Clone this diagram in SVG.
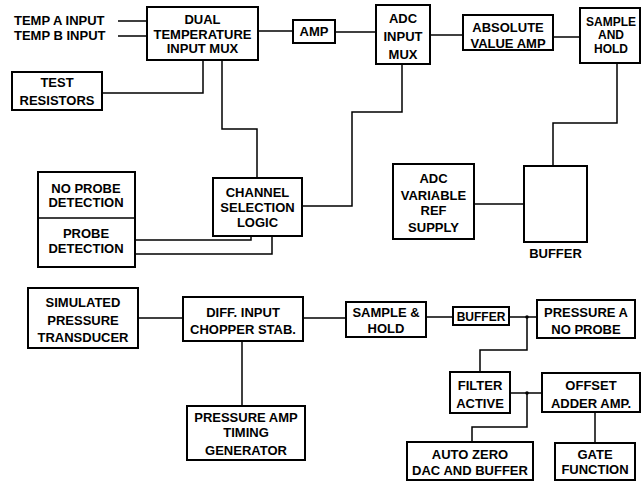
<svg xmlns="http://www.w3.org/2000/svg" width="644" height="484" viewBox="0 0 644 484">
<style>
.b{fill:#fff;stroke:#000;stroke-width:2}
.t{font-family:"Liberation Sans",Arial,sans-serif;font-weight:bold;font-size:13px;fill:#000;text-anchor:middle}
.l{text-anchor:start}
.s{font-size:12px}
.c{fill:none;stroke:#000;stroke-width:1.5}
</style>
<rect width="644" height="484" fill="#fff"/>
<g id="connectors">
<path class="c" d="M118 21H147M118 36H147"/>
<path class="c" d="M258 31H293"/>
<path class="c" d="M335 32H376"/>
<path class="c" d="M430 35H463"/>
<path class="c" d="M553 37H580"/>
<path class="c" d="M102 93H203V60"/>
<path class="c" d="M222 60V129H257V178"/>
<path class="c" d="M402 64V112H352V206H302"/>
<path class="c" d="M617 63V123H553V166"/>
<path class="c" d="M474 204H524"/>
<path class="c" d="M135 240H251V236"/>
<path class="c" d="M135 254H272V236"/>
<path class="c" d="M138 318H183"/>
<path class="c" d="M242 341V406"/>
<path class="c" d="M303 318H346"/>
<path class="c" d="M426 317H453"/>
<path class="c" d="M509 317H537"/>
<path class="c" d="M527 317V350H480V372"/>
<path class="c" d="M510 393H542"/>
<path class="c" d="M527 393V427H472V442"/>
<path class="c" d="M595 412V443"/>
<circle cx="527" cy="317" r="1.8"/>
<circle cx="527" cy="393" r="1.8"/>
</g>
<g id="temp-inputs">
<text class="t l" x="14" y="25">TEMP A INPUT</text>
<text class="t l" x="14" y="40">TEMP B INPUT</text>
</g>
<g id="dual-mux">
<rect class="b" x="147" y="7" width="111" height="53"/>
<text class="t" x="202.5" y="24">DUAL</text>
<text class="t" x="202.5" y="39">TEMPERATURE</text>
<text class="t" x="202.5" y="53">INPUT MUX</text>
</g>
<g id="amp">
<rect class="b" x="293" y="20" width="42" height="23"/>
<text class="t" x="314" y="36">AMP</text>
</g>
<g id="adc-mux">
<rect class="b" x="376" y="5" width="54" height="59"/>
<text class="t" x="403" y="23">ADC</text>
<text class="t" x="403" y="41">INPUT</text>
<text class="t" x="403" y="59">MUX</text>
</g>
<g id="abs-amp">
<rect class="b" x="463" y="15" width="90" height="35"/>
<text class="t" x="508" y="32">ABSOLUTE</text>
<text class="t" x="508" y="48">VALUE AMP</text>
</g>
<g id="sample-hold">
<rect class="b" x="580" y="8" width="60" height="55"/>
<text class="t s" x="611" y="26">SAMPLE</text>
<text class="t s" x="611" y="39">AND</text>
<text class="t s" x="611" y="53">HOLD</text>
</g>
<g id="test-resistors">
<rect class="b" x="12" y="72" width="90" height="38"/>
<text class="t" x="57" y="87">TEST</text>
<text class="t" x="57" y="105">RESISTORS</text>
</g>
<g id="probe-detection">
<rect class="b" x="38" y="172" width="97" height="95"/>
<line x1="38" y1="218" x2="135" y2="218" stroke="#000" stroke-width="1.5"/>
<text class="t" x="86" y="193">NO PROBE</text>
<text class="t" x="86" y="207">DETECTION</text>
<text class="t" x="86" y="238">PROBE</text>
<text class="t" x="86" y="253">DETECTION</text>
</g>
<g id="channel-selection">
<rect class="b" x="213" y="178" width="89" height="58"/>
<text class="t" x="257.5" y="197">CHANNEL</text>
<text class="t" x="257.5" y="212">SELECTION</text>
<text class="t" x="257.5" y="227">LOGIC</text>
</g>
<g id="adc-ref">
<rect class="b" x="393" y="164" width="81" height="75"/>
<text class="t" x="433.5" y="183">ADC</text>
<text class="t" x="433.5" y="200">VARIABLE</text>
<text class="t" x="433.5" y="215">REF</text>
<text class="t" x="433.5" y="232">SUPPLY</text>
</g>
<g id="buffer-top">
<rect class="b" x="524" y="166" width="63" height="76"/>
<text class="t" x="555.5" y="258">BUFFER</text>
</g>
<g id="sim-transducer">
<rect class="b" x="28" y="288" width="110" height="60"/>
<text class="t" x="83" y="307">SIMULATED</text>
<text class="t" x="83" y="325">PRESSURE</text>
<text class="t" x="83" y="342">TRANSDUCER</text>
</g>
<g id="diff-input">
<rect class="b" x="183" y="297" width="120" height="44"/>
<text class="t" x="243" y="317">DIFF. INPUT</text>
<text class="t" x="243" y="334">CHOPPER STAB.</text>
</g>
<g id="timing-gen">
<rect class="b" x="187" y="406" width="118" height="54"/>
<text class="t" x="246" y="422">PRESSURE AMP</text>
<text class="t" x="246" y="437">TIMING</text>
<text class="t" x="246" y="455">GENERATOR</text>
</g>
<g id="sample-hold-2">
<rect class="b" x="346" y="302" width="80" height="35"/>
<text class="t" x="386" y="317">SAMPLE &amp;</text>
<text class="t" x="386" y="333">HOLD</text>
</g>
<g id="buffer-bottom">
<rect class="b" x="453" y="307" width="56" height="18"/>
<text class="t s" x="481" y="321">BUFFER</text>
</g>
<g id="pressure-a">
<rect class="b" x="537" y="300" width="98" height="38"/>
<text class="t" x="586" y="317">PRESSURE A</text>
<text class="t" x="586" y="334">NO PROBE</text>
</g>
<g id="filter-active">
<rect class="b" x="450" y="372" width="60" height="41"/>
<text class="t" x="480" y="390">FILTER</text>
<text class="t" x="480" y="408">ACTIVE</text>
</g>
<g id="offset-adder">
<rect class="b" x="542" y="373" width="98" height="39"/>
<text class="t" x="591" y="390">OFFSET</text>
<text class="t" x="591" y="408">ADDER AMP.</text>
</g>
<g id="auto-zero">
<rect class="b" x="407" y="442" width="126" height="38"/>
<text class="t" x="470" y="459">AUTO ZERO</text>
<text class="t" x="470" y="475">DAC AND BUFFER</text>
</g>
<g id="gate-function">
<rect class="b" x="555" y="443" width="80" height="37"/>
<text class="t" x="595" y="459">GATE</text>
<text class="t" x="595" y="474">FUNCTION</text>
</g>
</svg>
